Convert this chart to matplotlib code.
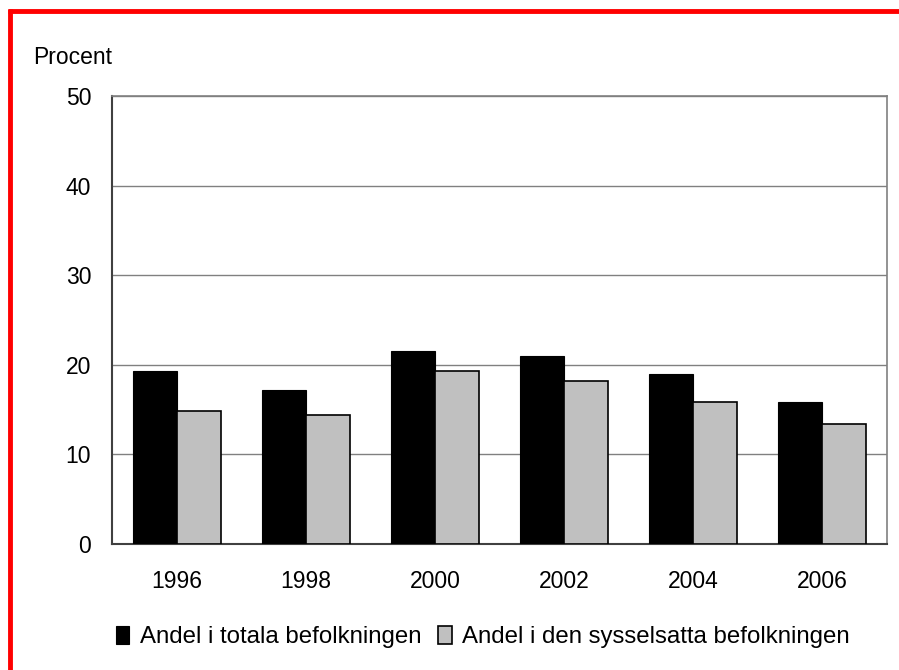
import matplotlib.pyplot as plt
import numpy as np
from matplotlib.lines import Line2D

years = ["1996", "1998", "2000", "2002", "2004", "2006"]
totala = [19.3, 17.1, 21.5, 20.9, 18.9, 15.8]
sysselsatta = [14.8, 14.4, 19.3, 18.2, 15.8, 13.3]
labels = ["Andel i totala befolkningen", "Andel i den sysselsatta befolkningen"]

plt.rcParams['font.family'] = ['Liberation Sans', 'DejaVu Sans']

fig = plt.figure(figsize=(8.99, 6.70), dpi=100)
ax = fig.add_axes([0.1246, 0.1888, 0.862, 0.6679])

x = np.arange(len(years))
w = 0.34
ax.bar(x - w/2, totala, w, color="black", edgecolor="black", linewidth=0.8,
       label=labels[0], zorder=3)
ax.bar(x + w/2, sysselsatta, w, color="#c0c0c0", edgecolor="black", linewidth=1.2,
       label=labels[1], zorder=3)

fs = 16.5
ax.set_xlim(-0.5, len(years) - 0.5)
ax.set_ylim(0, 50)
ax.set_yticks(range(0, 51, 10))
ax.set_xticks(x)
ax.set_xticklabels(years)
ax.tick_params(axis="both", length=0, labelsize=fs, colors="black")
ax.tick_params(axis="y", pad=15)
ax.tick_params(axis="x", pad=19)
ax.yaxis.grid(True, color="#808080", linewidth=1, zorder=0)
for s in ax.spines.values():
    s.set_color("#808080")
    s.set_linewidth(1.2)
ax.spines["left"].set_color("#404040")
ax.spines["bottom"].set_color("#404040")
ax.spines["left"].set_linewidth(1.5)
ax.spines["bottom"].set_linewidth(1.5)

fig.text(33/899, 1 - 57/670, "Procent", fontsize=fs, va="center", ha="left")

leg = fig.legend(loc="center", bbox_to_anchor=(483/899, 1 - 637/670), ncol=2,
                 frameon=False, fontsize=17.3, handlelength=0.55, handleheight=0.75,
                 handletextpad=0.45, columnspacing=0.7)

# red frame on top and left
fig.add_artist(Line2D([7.5/899, 1], [1 - 10.5/670, 1 - 10.5/670], solid_capstyle="butt",
                      color="red", linewidth=3.5, transform=fig.transFigure))
fig.add_artist(Line2D([9.5/899, 9.5/899], [0, 1 - 8.5/670], solid_capstyle="butt",
                      color="red", linewidth=3.5, transform=fig.transFigure))

fig.savefig("out.png", dpi=100)
